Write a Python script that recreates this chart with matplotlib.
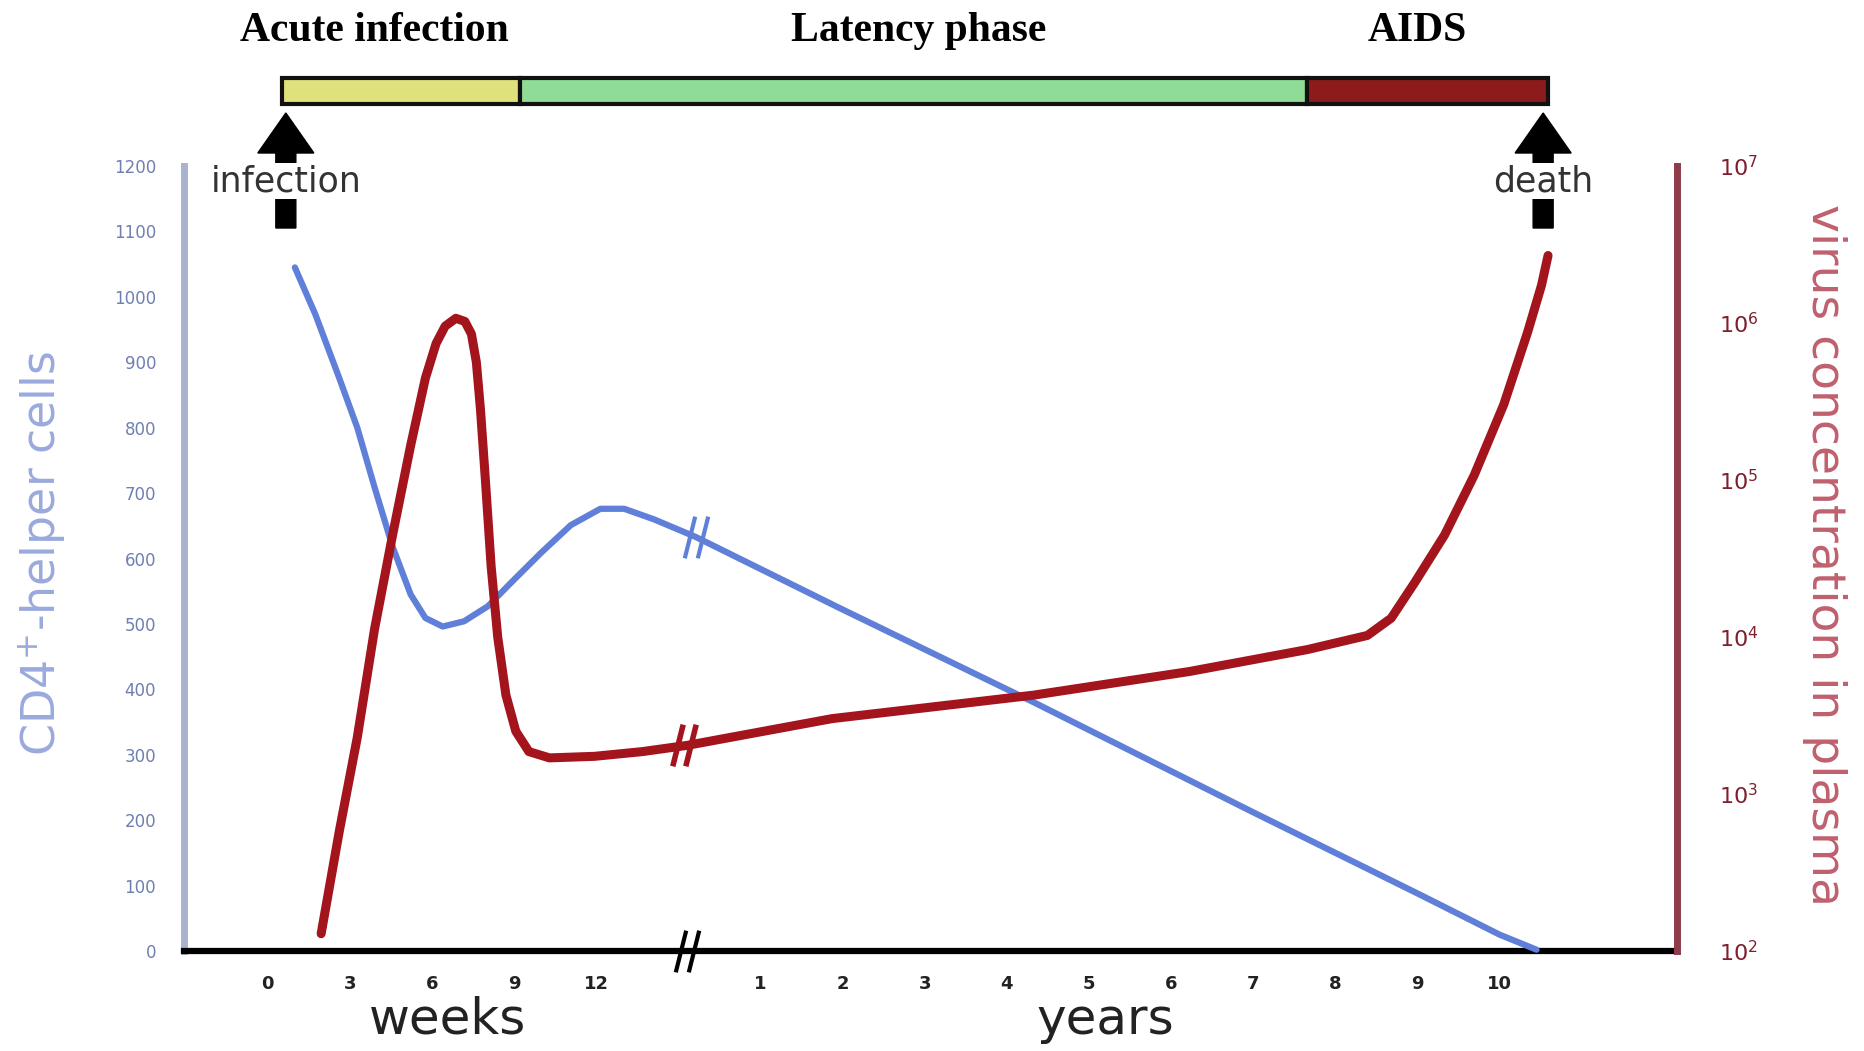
import matplotlib
matplotlib.use("Agg")
import matplotlib.pyplot as plt
import numpy as np
from matplotlib.path import Path
from matplotlib.patches import Rectangle, FancyArrow
from matplotlib.transforms import blended_transform_factory

# ---------------- data ----------------
# x positions: weeks section 0..4 (week = 3*pos), break ~5.1, years 1..10 at pos 6..15
week_labels = ["0", "3", "6", "9", "12"]
year_labels = ["1", "2", "3", "4", "5", "6", "7", "8", "9", "10"]
week_pos = [0, 1, 2, 3, 4]
year_pos = [6, 7, 8, 9, 10, 11, 12, 13, 14, 15]
break_pos = 5.1

cd4_x = [0.33, 0.58, 0.87, 1.09, 1.30, 1.52, 1.74, 1.92, 2.13, 2.39, 2.68, 2.97,
         3.33, 3.69, 4.05, 4.34, 4.70, 5.21, 7.0, 9.33, 12.0, 14.0, 15.0, 15.45]
cd4_y = [1045, 973, 876, 800, 709, 618, 545, 509, 496, 504, 527, 564,
         609, 651, 676, 676, 660, 633, 522, 380, 212, 88, 25, 2]

virus_x = [0.65, 0.87, 1.09, 1.30, 1.52, 1.74, 1.92, 2.05, 2.16, 2.29, 2.40, 2.48, 2.54,
           2.59, 2.65, 2.72, 2.80, 2.90, 3.02, 3.18, 3.43, 3.98, 4.56, 5.11, 6.87,
           9.33, 11.22, 12.66, 13.39, 13.68, 13.97, 14.33, 14.69, 15.05, 15.34, 15.51,
           15.59]
virus_log = [2.11, 2.76, 3.36, 4.05, 4.65, 5.22, 5.65, 5.87, 5.98, 6.03, 6.01, 5.93,
             5.75, 5.45, 5.00, 4.45, 4.00, 3.63, 3.40, 3.27, 3.23, 3.24, 3.27, 3.31,
             3.48, 3.63, 3.78, 3.92, 4.01, 4.12, 4.35, 4.65, 5.03, 5.48, 5.94, 6.24,
             6.43]

cd4_ticks = [0, 100, 200, 300, 400, 500, 600, 700, 800, 900, 1000, 1100, 1200]
virus_ticks = [1e2, 1e3, 1e4, 1e5, 1e6, 1e7]
virus_tick_labels = ["$10^2$", "$10^3$", "$10^4$", "$10^5$", "$10^6$", "$10^7$"]

phase_names = ["Acute infection", "Latency phase", "AIDS"]
phase_bounds = [0.17, 3.07, 12.66, 15.59]
phase_colors = ["#dfe27c", "#8fdc96", "#8e1b1b"]
phase_label_x = [1.3, 7.93, 14.0]

event_names = ["infection", "death"]
event_pos = [0.22, 15.53]

# ---------------- figure ----------------
W, H = 1864, 1051
fig = plt.figure(figsize=(W / 100, H / 100), dpi=100)
left, right, bottom, top = 184, 1677, 951, 166
ax = fig.add_axes([left / W, 1 - bottom / H, (right - left) / W, (bottom - top) / H])
ax.set_xlim(-1.02, 17.16)
ax.set_ylim(0, 1200)

blue = "#5f7fd9"
red = "#a3141c"

ax.plot(cd4_x, cd4_y, color=blue, lw=4.5, solid_capstyle="round",
        solid_joinstyle="round", clip_on=False, zorder=3)

ax2 = ax.twinx()
ax2.set_yscale("log")
ax2.set_ylim(1e2, 1e7)
ax2.plot(virus_x, [10 ** v for v in virus_log], color=red, lw=6.5,
         solid_capstyle="round", solid_joinstyle="round", clip_on=False, zorder=3)

# spines
ax.spines["top"].set_visible(False)
ax2.spines["top"].set_visible(False)
ax2.spines["left"].set_visible(False)
ax2.spines["bottom"].set_visible(False)
ax.spines["right"].set_visible(False)
ax.spines["left"].set_color("#a9b3cc")
ax.spines["left"].set_linewidth(5)
ax2.spines["right"].set_color("#8e3b4c")
ax2.spines["right"].set_linewidth(5)
ax.spines["bottom"].set_color("black")
ax.spines["bottom"].set_linewidth(4.5)

# ticks
ax.set_yticks(cd4_ticks)
ax.set_yticklabels([str(t) for t in cd4_ticks], color="#6f7fb2", fontsize=12)
ax.tick_params(axis="y", length=0, pad=20)
ax2.set_yticks(virus_ticks)
ax2.set_yticklabels(virus_tick_labels, color="#7d1f2c", fontsize=16)
ax2.yaxis.set_minor_locator(matplotlib.ticker.NullLocator())
ax2.tick_params(axis="y", length=0, pad=30)

ax.set_xticks(week_pos + year_pos)
ax.set_xticklabels(week_labels + year_labels, fontsize=13, fontweight="bold", color="#222222")
ax.tick_params(axis="x", length=0, pad=17)

# axis labels
fig.text(42 / W, 1 - 553 / H, "CD4$^{+}$-helper cells", rotation=90, color="#9aaadd",
         fontsize=33, ha="center", va="center")
fig.text(1825 / W, 1 - 555 / H, "virus concentration in plasma", rotation=270, color="#c0606e",
         fontsize=34, ha="center", va="center")
tr = blended_transform_factory(ax.transData, fig.transFigure)
ax.text(2.19, 1 - 1020 / H, "weeks", transform=tr, fontsize=36, ha="center", va="center",
        color="#222222")
ax.text(10.2, 1 - 1020 / H, "years", transform=tr, fontsize=36, ha="center", va="center",
        color="#222222")

# break marks
brk = Path([(-0.9, -1.6), (-0.1, 1.6), (0.1, -1.6), (0.9, 1.6)],
           [Path.MOVETO, Path.LINETO, Path.MOVETO, Path.LINETO])
ax.plot([break_pos], [0], marker=brk, ms=30, mew=3, color="black", clip_on=False, zorder=5)
ax.plot([5.21], [633], marker=brk, ms=30, mew=3, color=blue, clip_on=False, zorder=5)
ax2.plot([5.07], [10 ** 3.31], marker=brk, ms=30, mew=4, color=red, clip_on=False, zorder=5)

# phase bar
bar_y0, bar_y1 = 1 - 104 / H, 1 - 78 / H
for i, c in enumerate(phase_colors):
    x0, x1 = phase_bounds[i], phase_bounds[i + 1]
    fig.patches.append(Rectangle((x0, bar_y0), x1 - x0, bar_y1 - bar_y0, transform=tr,
                                 facecolor=c, edgecolor="#111111", lw=3))
for name, xp in zip(phase_names, phase_label_x):
    ax.text(xp, 1 - 31 / H, name, transform=tr, fontsize=30, fontweight="bold",
            family="Liberation Serif", ha="center", va="center", color="black")

# event arrows
for name, xp in zip(event_names, event_pos):
    xd = ax.transData.transform((xp, 0))[0]
    fig.patches.append(FancyArrow(xd, H - 228, 0, 228 - 113, width=20, head_width=56,
                                  head_length=40, length_includes_head=True,
                                  transform=None, color="black", zorder=6))
    fig.text(xd / W, 1 - 181 / H, name, fontsize=25, ha="center", va="center",
             color="#333333", zorder=7,
             bbox=dict(facecolor="white", edgecolor="none", pad=0.5))

fig.savefig("out.png", dpi=100, facecolor="white")
